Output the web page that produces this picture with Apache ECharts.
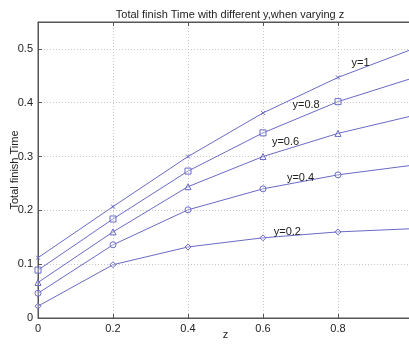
<!DOCTYPE html>
<html>
<head>
<meta charset="utf-8">
<script src="https://cdn.jsdelivr.net/npm/echarts@6/dist/echarts.min.js"></script>
<style>
  html, body { margin: 0; padding: 0; background: #fff; }
  #chart { width: 409px; height: 344px; }
</style>
</head>
<body>
<div id="chart"></div>
<script>
// z values along the x axis
var zValues = [0, 0.2, 0.4, 0.6, 0.8, 1.0];

// total finish time for each y
var y1 = [0.112, 0.207, 0.300, 0.381, 0.447, 0.500];
var y08 = [0.089, 0.184, 0.273, 0.344, 0.402, 0.446];
var y06 = [0.066, 0.160, 0.244, 0.300, 0.343, 0.376];
var y04 = [0.046, 0.136, 0.201, 0.240, 0.266, 0.284];
var y02 = [0.022, 0.099, 0.132, 0.149, 0.160, 0.166];

var seriesNames = ['y=1', 'y=0.8', 'y=0.6', 'y=0.4', 'y=0.2'];
// where each curve's text label sits, [z, value]
var labelPos = [[0.86, 0.473], [0.715, 0.396], [0.66, 0.327], [0.70, 0.260], [0.665, 0.160]];

var lineColor = '#6a6ac6';
var font = '"Liberation Sans", Arial, sans-serif';
var crossPath = 'path://M0,0L10,10M10,0L0,10';
var symbols = [crossPath, 'rect', 'triangle', 'circle', 'diamond'];
var allValues = [y1, y08, y06, y04, y02];

var chart = echarts.init(document.getElementById('chart'));

function pairs(vals) {
  return zValues.map(function (z, i) { return [z, vals[i]]; });
}

var series = allValues.map(function (vals, i) {
  return {
    name: seriesNames[i],
    type: 'line',
    data: pairs(vals),
    symbol: symbols[i],
    symbolSize: i === 0 ? 4 : 6,
    showAllSymbol: true,
    lineStyle: { color: lineColor, width: 1 },
    itemStyle: { color: i === 0 ? 'rgba(0,0,0,0)' : 'rgba(255,255,255,0.3)', borderColor: lineColor, borderWidth: 1 },
    emphasis: { disabled: true },
    animation: false,
    markPoint: {
      symbol: 'circle',
      symbolSize: 0,
      silent: true,
      label: {
        show: true,
        position: 'inside',
        formatter: seriesNames[i],
        color: '#222',
        fontSize: 11,
        fontFamily: font
      },
      data: [{ coord: labelPos[i] }]
    }
  };
});

var option = {
  animation: false,
  title: {
    text: 'Total finish Time with different y,when varying z',
    left: 225,
    textAlign: 'center',
    top: 4,
    textStyle: { fontSize: 11, fontWeight: 'normal', color: '#222', fontFamily: font }
  },
  grid: {
    left: 38,
    top: 22,
    right: -4,
    bottom: 26,
    outerBoundsMode: 'none',
    containLabel: false,
    show: true,
    borderColor: '#555',
    borderWidth: 1
  },
  xAxis: [{
    type: 'value',
    min: 0,
    max: 1,
    interval: 0.2,
    name: 'z',
    nameLocation: 'middle',
    nameGap: 11,
    nameMoveOverlap: false,
    nameTextStyle: { fontSize: 11, color: '#222', fontFamily: font },
    axisLine: { lineStyle: { color: '#555' } },
    axisTick: { inside: true, length: 4, lineStyle: { color: '#555' } },
    axisLabel: { fontSize: 11, color: '#222', fontFamily: font, margin: 5 },
    splitLine: { show: true, lineStyle: { color: '#c8c8c8', type: [1, 2] } }
  }, {
    type: 'value',
    position: 'top',
    min: 0,
    max: 1,
    interval: 0.2,
    axisLine: { lineStyle: { color: '#555' } },
    axisTick: { inside: true, length: 4, lineStyle: { color: '#555' } },
    axisLabel: { show: false },
    splitLine: { show: false }
  }],
  yAxis: {
    type: 'value',
    min: 0,
    max: 0.55,
    interval: 0.1,
    name: 'Total finish Time',
    nameLocation: 'middle',
    nameGap: 18,
    nameMoveOverlap: false,
    nameTextStyle: { fontSize: 11, color: '#222', fontFamily: font },
    axisLine: { show: true, lineStyle: { color: '#555' } },
    axisTick: { show: true, inside: true, length: 4, lineStyle: { color: '#555' } },
    axisLabel: { fontSize: 11, color: '#222', fontFamily: font, margin: 5, showMaxLabel: false },
    splitLine: { show: true, lineStyle: { color: '#c8c8c8', type: [1, 2] } }
  },
  series: series
};

chart.setOption(option);
</script>
</body>
</html>
